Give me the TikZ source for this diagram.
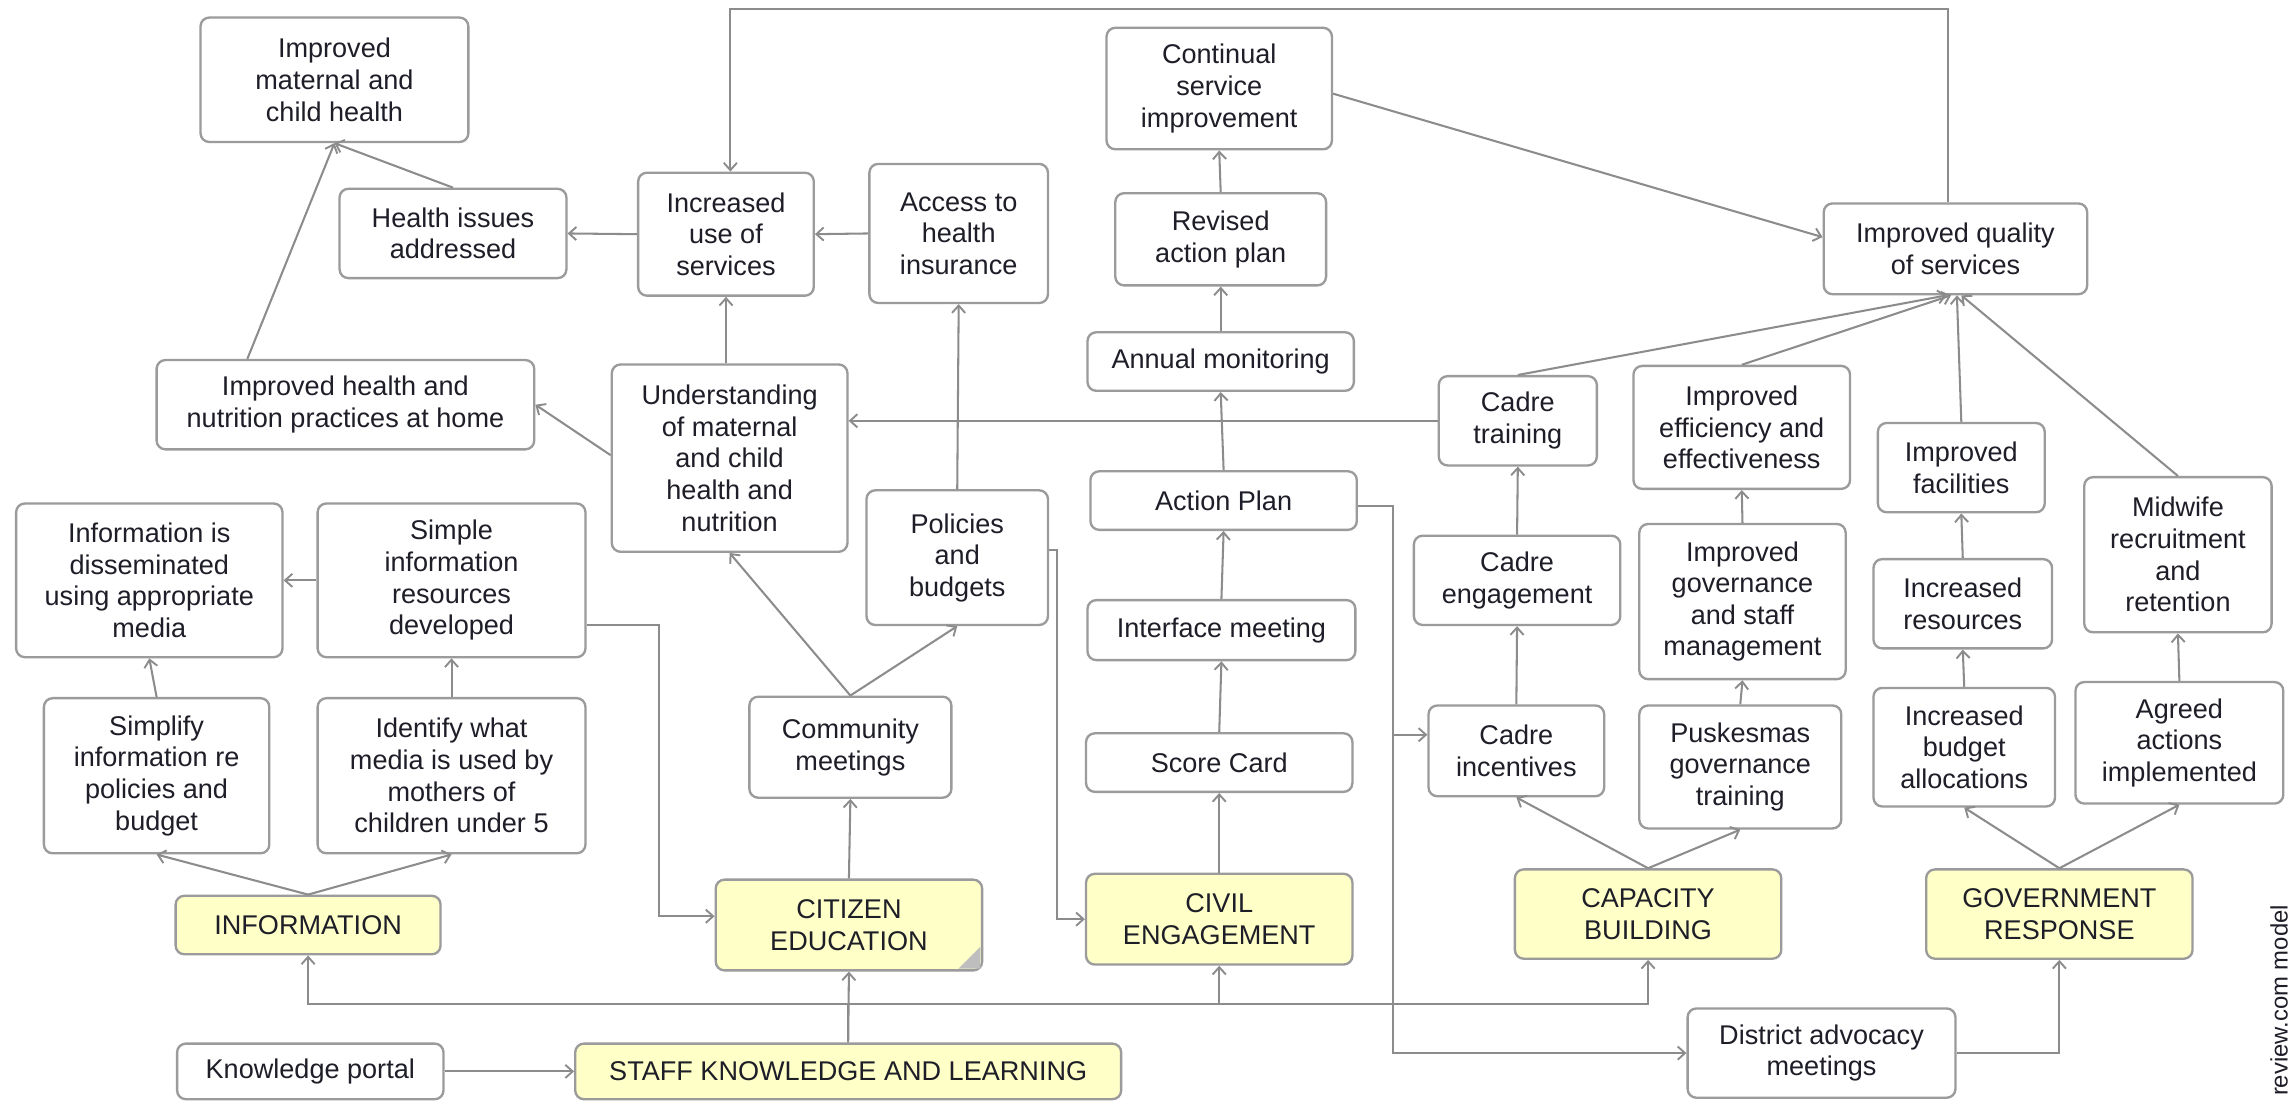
\documentclass[tikz,border=0pt]{standalone}
\usepackage{fontspec}
\setmainfont{Liberation Sans}
\usetikzlibrary{arrows.meta,calc}
\definecolor{bordercol}{RGB}{155,155,155}
\definecolor{linecol}{RGB}{140,140,140}
\definecolor{txtcol}{RGB}{30,30,40}
\definecolor{yel}{RGB}{255,255,200}
\definecolor{foldcol}{RGB}{190,190,190}
\newcommand\fs{\fontsize{18.5}{21.6}\selectfont}
\newcommand\mybox[6][box]{\node[#1,minimum width=#4pt,minimum height=#5pt] (#2) at #3 {#6};}
\begin{document}
\begin{tikzpicture}[x=1pt,y=-1pt,
 box/.style={draw=bordercol,line width=1.6pt,rounded corners=6pt,fill=white,align=center,inner sep=0pt,text=txtcol,font=\fs},
 ybox/.style={box,fill=yel},
 arr/.style={draw=linecol,line width=1.4pt,-{Straight Barb[length=5pt,width=9pt,line width=1.3pt]}},
 ln/.style={draw=linecol,line width=1.4pt}]
\useasboundingbox (0,0) rectangle (1568,752);
\fill[white] (0,0) rectangle (1568,752);

% nodes
\mybox{imch}{(228.5,54.5)}{183}{85}{Improved\\maternal and\\child health}
\mybox{hia}{(309.5,159.5)}{155}{61}{Health issues\\addressed}
\mybox{ius}{(496,160)}{120}{84}{Increased\\use of\\services}
\mybox{ahi}{(655,159.5)}{122}{95}{Access to\\health\\insurance}
\mybox{csi}{(833,60.5)}{154}{83}{Continual\\service\\improvement}
\mybox{rap}{(834,163.5)}{144}{63}{Revised\\action plan}
\mybox{am}{(834,247)}{182}{40}{Annual monitoring}
\mybox{iqs}{(1336,170)}{180}{62}{Improved quality\\of services}
\mybox{ihn}{(236,276.5)}{258}{61}{Improved health and\\nutrition practices at home}
\mybox{umc}{(498.5,313)}{161}{128}{Understanding\\of maternal\\and child\\health and\\nutrition}
\mybox{ct}{(1037,287.5)}{108}{61}{Cadre\\training}
\mybox{iee}{(1190,292)}{148}{84}{Improved\\efficiency and\\effectiveness}
\mybox{ifa}{(1340,319.5)}{114}{61}{Improved\\facilities}
\mybox{mrr}{(1488,379)}{128}{106}{Midwife\\recruitment\\and\\retention}
\mybox{iid}{(102,396.5)}{182}{105}{Information is\\disseminated\\using appropriate\\media}
\mybox{sir}{(308.5,396.5)}{183}{105}{Simple\\information\\resources\\developed}
\mybox{pab}{(654,381)}{124}{92}{Policies\\and\\budgets}
\mybox{ap}{(836,342)}{182}{40}{Action Plan}
\mybox{im}{(834.5,430.5)}{183}{41}{Interface meeting}
\mybox{ce}{(1036.5,396.5)}{141}{61}{Cadre\\engagement}
\mybox{igs}{(1190.5,411)}{141}{106}{Improved\\governance\\and staff\\management}
\mybox{ir}{(1341,412.5)}{122}{61}{Increased\\resources}
\mybox{sip}{(107,530)}{154}{106}{Simplify\\information re\\policies and\\budget}
\mybox{iwm}{(308.5,530)}{183}{106}{Identify what\\media is used by\\mothers of\\children under 5}
\mybox{cm}{(581,510.5)}{138}{69}{Community\\meetings}
\mybox{sc}{(833,521)}{182}{40}{Score Card}
\mybox{ci}{(1036,513)}{120}{62}{Cadre\\incentives}
\mybox{pgt}{(1189,524)}{138}{84}{Puskesmas\\governance\\training}
\mybox{iba}{(1342,510.5)}{124}{81}{Increased\\budget\\allocations}
\mybox{aai}{(1489,507.5)}{142}{83}{Agreed\\actions\\implemented}
\mybox[ybox]{INFO}{(210.5,632)}{181}{40}{INFORMATION}
\mybox[ybox]{CIT}{(580,632)}{182}{62}{CITIZEN\\EDUCATION}
\mybox[ybox]{CIV}{(833,628)}{182}{62}{CIVIL\\ENGAGEMENT}
\mybox[ybox]{CAP}{(1126,624.5)}{182}{61}{CAPACITY\\BUILDING}
\mybox[ybox]{GOV}{(1407,624.5)}{182}{61}{GOVERNMENT\\RESPONSE}
\mybox{kp}{(212,732)}{182}{38}{Knowledge portal}
\mybox[ybox]{skl}{(579.5,732)}{373}{38}{STAFF KNOWLEDGE AND LEARNING}
\mybox{dam}{(1244.5,719.5)}{183}{61}{District advocacy\\meetings}

% folded corner of CITIZEN EDUCATION
\fill[foldcol] ($(CIT.south east)+(-17,-2)$) -- ($(CIT.south east)+(-2,-17)$) -- ($(CIT.south east)+(-2,-2)$) -- cycle;

% watermark
\node[rotate=90,anchor=base west,inner sep=0pt,text=txtcol,font=\fontsize{16.3}{19}\selectfont] (wm) at (1563,749) {review.com model};

% bend coordinates
\coordinate (lpL) at (499,6);
\coordinate (lpR) at (1331,6);
\coordinate (sirx) at (450,0);
\coordinate (pabx) at (722,0);
\coordinate (apx) at (952,0);
\coordinate (bus) at (0,686);
\coordinate (ciw) at ([yshift=11pt]ci.west);
\coordinate (citw) at ([yshift=6pt]CIT.west);

% connectors
\draw[arr] (hia.north) -- (imch.south);
\draw[arr] ([xshift=-67pt]ihn.north) -- (imch.south);
\draw[arr] (ius.west) -- (hia.east);
\draw[arr] (ahi.west) -- (ius.east);
\draw[arr] (umc.north -| ius.south) -- (ius.south);
\draw[arr] ([yshift=2pt]umc.west) -- (ihn.east);
\draw[arr] (iqs.north -| lpR) -- (lpR) -- (lpL) -- (lpL |- ius.north);
\draw[arr] ([yshift=-3.5pt]csi.east) -- ([yshift=8pt]iqs.west);
\draw[arr] (rap.north) -- (csi.south);
\draw[arr] (am.north) -- (rap.south);
\draw[arr] (ap.north) -- (am.south);
\draw[arr] (im.north) -- (ap.south);
\draw[arr] (sc.north) -- (im.south);
\draw[arr] (CIV.north) -- (sc.south);
\draw[arr] (ct.west) -- (ct.west -| umc.east);
\draw[arr] (ct.north) -- ([xshift=-6pt]iqs.south);
\draw[arr] (iee.north) -- ([xshift=-3pt]iqs.south);
\draw[arr] (ifa.north) -- ([xshift=1pt]iqs.south);
\draw[arr] (mrr.north) -- ([xshift=4pt]iqs.south);
\draw[arr] (ce.north) -- (ct.south);
\draw[arr] (ci.north) -- (ce.south);
\draw[arr] (igs.north) -- (iee.south);
\draw[arr] (pgt.north) -- (igs.south);
\draw[arr] (ir.north) -- (ifa.south);
\draw[arr] (iba.north) -- (ir.south);
\draw[arr] (aai.north) -- (mrr.south);
\draw[arr] (CAP.north) -- (ci.south);
\draw[arr] (CAP.north) -- (pgt.south);
\draw[arr] (GOV.north) -- (iba.south);
\draw[arr] (GOV.north) -- (aai.south);
\draw[arr] (INFO.north) -- (sip.south);
\draw[arr] (INFO.north) -- (iwm.south);
\draw[arr] (sip.north) -- (iid.south);
\draw[arr] (iwm.north) -- (sir.south);
\draw[arr] (sir.west) -- (iid.east);
\draw[arr] ([yshift=-30.5pt]sir.east) -| (sirx |- citw) -- (citw);
\draw[arr] (cm.north) -- (umc.south);
\draw[arr] (cm.north) -- (pab.south);
\draw[arr] (CIT.north) -- (cm.south);
\draw[arr] (pab.north) -- (ahi.south);
\draw[arr] ([yshift=5pt]pab.east) -| (pabx |- CIV.west) -- (CIV.west);
\draw[arr] ([yshift=-4pt]ap.east) -| (apx |- dam.west) -- (dam.west);
\draw[arr] (apx |- ciw) -- (ciw);
\draw[arr] (skl.north) -- (CIT.south);
\draw[arr] (skl.north) -- (skl.north |- bus) -| (INFO.south);
\draw[arr] (skl.north |- bus) -| (CIV.south);
\draw[arr] (skl.north |- bus) -| (CAP.south);
\draw[arr] (kp.east) -- (skl.west);
\draw[arr] (dam.east) -| (GOV.south);
\end{tikzpicture}
\end{document}
